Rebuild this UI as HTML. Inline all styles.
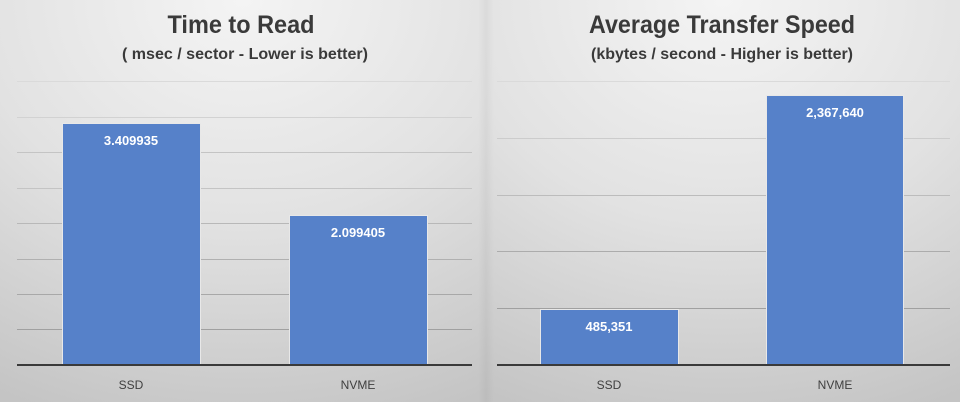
<!DOCTYPE html>
<html><head><style>
html,body{margin:0;padding:0;width:960px;height:402px;overflow:hidden;background:#d8d8d8}
svg{display:block}
text{font-family:"Liberation Sans",Arial,sans-serif}
</style></head><body>
<svg width="960" height="402" viewBox="0 0 960 402" xmlns="http://www.w3.org/2000/svg">
<defs>
<radialGradient id="bg" cx="0.5" cy="0" r="1.1" fx="0.5" fy="0">
<stop offset="0" stop-color="#f4f4f4"/>
<stop offset="0.5" stop-color="#e2e2e2"/>
<stop offset="1" stop-color="#c4c4c4"/>
</radialGradient>
<linearGradient id="div" x1="0" x2="1" y1="0" y2="0">
<stop offset="0" stop-color="#000" stop-opacity="0"/>
<stop offset="0.5" stop-color="#000" stop-opacity="0.04"/>
<stop offset="1" stop-color="#000" stop-opacity="0"/>
</linearGradient>
</defs>
<rect x="0" y="0" width="486" height="402" fill="url(#bg)"/>
<rect x="486" y="0" width="474" height="402" fill="url(#bg)"/>
<rect x="478" y="0" width="16" height="402" fill="url(#div)"/>

<!-- Left chart -->
<g stroke="#c4c4c4" stroke-width="1">
<line x1="17" x2="472" y1="81.5" y2="81.5" stroke="#dadada"/>
<line x1="17" x2="472" y1="117.5" y2="117.5" stroke="#d2d2d2"/>
<line x1="17" x2="472" y1="152.5" y2="152.5"/>
<line x1="17" x2="472" y1="188.5" y2="188.5"/>
<line x1="17" x2="472" y1="223.5" y2="223.5" stroke="#b8b8b8"/>
<line x1="17" x2="472" y1="259.5" y2="259.5" stroke="#b0b0b0"/>
<line x1="17" x2="472" y1="294.5" y2="294.5" stroke="#a8a8a8"/>
<line x1="17" x2="472" y1="329.5" y2="329.5" stroke="#a0a0a0"/>
</g>
<rect x="62.5" y="123.5" width="138" height="242" fill="#5681c9" stroke="#e8e8e8" stroke-width="1"/>
<rect x="289.5" y="215.5" width="138" height="150" fill="#5681c9" stroke="#e8e8e8" stroke-width="1"/>
<line x1="17" x2="472" y1="365" y2="365" stroke="#3a3a3a" stroke-width="2"/>
<text x="131" y="145" font-size="13" font-weight="bold" fill="#fff" text-anchor="middle">3.409935</text>
<text x="358" y="237" font-size="13" font-weight="bold" fill="#fff" text-anchor="middle">2.099405</text>
<text x="131" y="389" font-size="12" fill="#404040" text-anchor="middle">SSD</text>
<text x="358" y="389" font-size="12" fill="#404040" text-anchor="middle">NVME</text>
<text x="241" y="33" font-size="25" font-weight="bold" fill="#3a3a3a" text-anchor="middle" textLength="147" lengthAdjust="spacingAndGlyphs">Time to Read</text>
<text x="245" y="59" font-size="16" font-weight="bold" fill="#3a3a3a" text-anchor="middle" textLength="246" lengthAdjust="spacingAndGlyphs">( msec / sector - Lower is better)</text>

<!-- Right chart -->
<g stroke="#c4c4c4" stroke-width="1">
<line x1="497" x2="950" y1="81.5" y2="81.5" stroke="#dadada"/>
<line x1="497" x2="950" y1="138.5" y2="138.5" stroke="#cccccc"/>
<line x1="497" x2="950" y1="195.5" y2="195.5" stroke="#bcbcbc"/>
<line x1="497" x2="950" y1="251.5" y2="251.5" stroke="#acacac"/>
<line x1="497" x2="950" y1="308.5" y2="308.5" stroke="#a0a0a0"/>
</g>
<rect x="540.5" y="309.5" width="138" height="56" fill="#5681c9" stroke="#e8e8e8" stroke-width="1"/>
<rect x="766.5" y="95.5" width="137" height="270" fill="#5681c9" stroke="#e8e8e8" stroke-width="1"/>
<line x1="497" x2="950" y1="365" y2="365" stroke="#3a3a3a" stroke-width="2"/>
<text x="609" y="331" font-size="13" font-weight="bold" fill="#fff" text-anchor="middle">485,351</text>
<text x="835" y="117" font-size="13" font-weight="bold" fill="#fff" text-anchor="middle">2,367,640</text>
<text x="609" y="389" font-size="12" fill="#404040" text-anchor="middle">SSD</text>
<text x="835" y="389" font-size="12" fill="#404040" text-anchor="middle">NVME</text>
<text x="722" y="33" font-size="25" font-weight="bold" fill="#3a3a3a" text-anchor="middle" textLength="266" lengthAdjust="spacingAndGlyphs">Average Transfer Speed</text>
<text x="722" y="59" font-size="16" font-weight="bold" fill="#3a3a3a" text-anchor="middle" textLength="262" lengthAdjust="spacingAndGlyphs">(kbytes / second - Higher is better)</text>
</svg>
</body></html>
